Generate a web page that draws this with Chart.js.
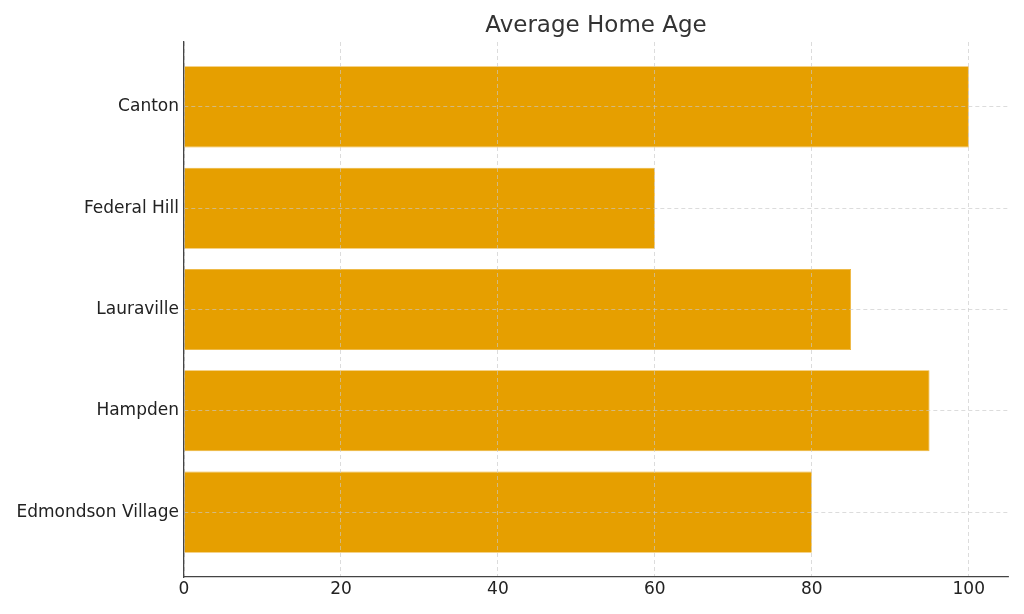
<!DOCTYPE html>
<html>
<head>
<meta charset="utf-8">
<script src="https://cdn.jsdelivr.net/npm/chart.js@4/dist/chart.umd.min.js"></script>
<style>
  body { margin: 0; background: #fff; }
  canvas { display: block; }
</style>
</head>
<body>
<canvas id="chart" width="1024" height="614"></canvas>
<script>
/* ================= DATA ================= */
const neighborhoods = ["Canton", "Federal Hill", "Lauraville", "Hampden", "Edmondson Village"];
const homeAges = [100, 60, 85, 95, 80];
const xTicks = [0, 20, 40, 60, 80, 100];

const FONT = "'DejaVu Sans', sans-serif";
const GRID = "rgba(200,200,200,0.8)";

/* ================= CHART ================= */
const points = neighborhoods.map((name, i) => ({ x: homeAges[i], y: i }));

new Chart(document.getElementById("chart"), {
    type: "bar",
    data: {
        datasets: [{
            label: "Average Home Age",
            data: points,
            backgroundColor: "#E69F00",
            borderColor: "#EDB02E",
            borderWidth: 0.8,
            categoryPercentage: 1,
            barPercentage: 0.8
        }]
    },
    options: {
        indexAxis: "y",
        responsive: false,
        animation: false,
        devicePixelRatio: 1,
        layout: { padding: { left: 0, right: 16, top: 0, bottom: 0 } },
        plugins: {
            legend: { display: false },
            tooltip: { enabled: false },
            title: {
                display: true,
                text: "Average Home Age",
                fullSize: false,
                color: "#333333",
                font: { family: FONT, size: 23, weight: "normal" },
                padding: { top: 12, bottom: 2.4 }
            }
        },
        scales: {
            x: {
                type: "linear",
                min: 0,
                max: 105,
                afterBuildTicks: s => { s.ticks = xTicks.map(v => ({ value: v })); },
                afterFit: s => { s.height = 37; },
                ticks: {
                    color: "#222222",
                    font: { family: FONT, size: 17 },
                    padding: 2
                },
                grid: { color: GRID, lineWidth: 0.8, drawTicks: false, z: 1 },
                border: { color: "#444444", width: 1.3, dash: [4, 3], z: 2 }
            },
            y: {
                type: "linear",
                offset: false,
                min: -0.64,
                max: neighborhoods.length - 1 + 0.64,
                reverse: true,
                afterBuildTicks: s => { s.ticks = neighborhoods.map((n, i) => ({ value: i })); },
                afterFit: s => { s.width = 184; },
                ticks: {
                    color: "#222222",
                    font: { family: FONT, size: 17 },
                    padding: 5,
                    callback: v => neighborhoods[v]
                },
                grid: { color: GRID, lineWidth: 0.8, drawTicks: false, offset: false, z: 1 },
                border: { color: "#444444", width: 1.3, dash: [4, 3], z: 2 }
            }
        }
    }
});
</script>
</body>
</html>
